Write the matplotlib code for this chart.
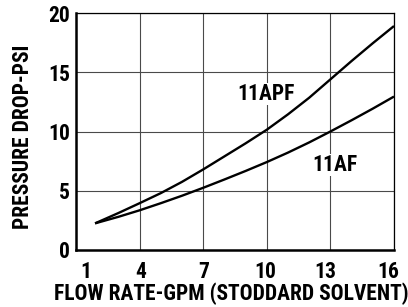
import matplotlib
matplotlib.use('Agg')
import matplotlib.pyplot as plt
from matplotlib import transforms

# flow rate (gpm, stoddard solvent) vs pressure drop (psi)
flow = [1.9, 3, 4, 5, 6, 7, 8, 9, 10, 11, 12, 13, 14, 15, 16]
drop_11apf = [2.25, 3.12, 3.95, 4.8, 5.75, 6.8, 7.9, 9.0, 10.15, 11.45, 12.85, 14.4, 15.95, 17.45, 18.9]
drop_11af = [2.25, 2.8, 3.35, 3.95, 4.58, 5.25, 5.95, 6.67, 7.42, 8.22, 9.08, 10.0, 10.95, 11.93, 12.95]

x_ticks = [1, 4, 7, 10, 13, 16]
y_ticks = [0, 5, 10, 15, 20]

FONT = ['Roboto Condensed', 'Liberation Sans', 'DejaVu Sans']
plt.rcParams['font.family'] = FONT
plt.rcParams['font.weight'] = 'bold'
FS = 15.5

fig = plt.figure(figsize=(4.08, 3.07), dpi=100)
ax = fig.add_axes([76/408, 1 - 250/307, (394 - 76)/408, (250 - 13)/307])

ax.plot(flow, drop_11apf, color='black', lw=1.7, solid_capstyle='butt', zorder=3)
ax.plot(flow, drop_11af, color='black', lw=1.7, solid_capstyle='butt', zorder=3)

ax.set_xlim(1, 16)
ax.set_ylim(0, 20)
ax.set_xticks(x_ticks)
ax.set_yticks(y_ticks)
ax.grid(True, color='#4a4a4a', lw=0.8)
ax.set_axisbelow(True)
ax.tick_params(length=0, labelsize=FS)
ax.tick_params(axis='x', pad=8)
ax.tick_params(axis='y', pad=4.5)

for side in ['top', 'right']:
    ax.spines[side].set_linewidth(0.9)
for side in ['left', 'bottom']:
    ax.spines[side].set_linewidth(1.8)

# tick labels in the original are nudged off the gridlines a bit
offsets = [9.6, 0.7, 0.6, -1.7, -5, -5.7]
for lab, dx in zip(ax.get_xticklabels(), offsets):
    lab.set_transform(lab.get_transform() + transforms.ScaledTranslation(dx/100, 0, fig.dpi_scale_trans))

ax.text(9.94, 13.2, '11APF', fontsize=FS, fontweight='bold', ha='center', va='center',
        bbox=dict(facecolor='white', edgecolor='none', pad=0), zorder=2)
ax.text(13.2, 7.17, '11AF', fontsize=FS, fontweight='bold', ha='center', va='center',
        bbox=dict(facecolor='white', edgecolor='none', pad=0), zorder=2)

fig.text(231.5/408, 1 - 293.5/307, 'FLOW RATE-GPM (STODDARD SOLVENT)', fontsize=FS,
         fontweight='bold', ha='center', va='center')
fig.text(23/408, 1 - 136.5/307, 'PRESSURE DROP-PSI', fontsize=FS, fontweight='bold',
         rotation=90, ha='center', va='center')

fig.savefig('out.png', dpi=100)
